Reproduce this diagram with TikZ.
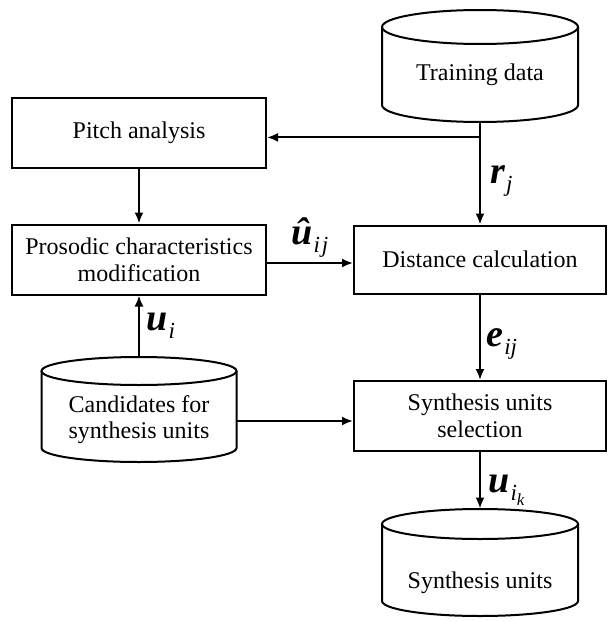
\documentclass[tikz,border=0pt]{standalone}
\usepackage{fontspec}
\setmainfont{Liberation Serif}
\usetikzlibrary{arrows.meta,calc}
\newcommand\mylab[2]{{\fontsize{19}{19}\selectfont\bfseries\itshape #1}\kern0.5pt\raisebox{-4pt}{\fontsize{11.5}{11.5}\selectfont\itshape #2}}
\newcommand\mycyl[5]{%
  \draw[line width=1pt] (#1,#2) ellipse [x radius=#4*0.5pt, y radius=#5*0.5pt];
  \draw[line width=1pt] (#1-#4,#2) -- (#1-#4,#3) arc[start angle=180,end angle=360,x radius=#4*0.5pt,y radius=#5*0.5pt] -- (#1+#4,#2);
}
\begin{document}
\begin{tikzpicture}[x=0.5pt,y=-0.5pt,
  box/.style={draw,line width=1pt,minimum width=127pt,minimum height=35pt,inner sep=0pt,align=center,font=\fontsize{12}{13.5}\selectfont},
  txt/.style={inner sep=0pt,align=center,font=\fontsize{12}{13}\selectfont},
  cylnode/.style={inner sep=0pt,minimum width=98pt},
  arr/.style={line width=1pt,-{Latex[length=5.5pt,width=4.5pt]}},
  lab/.style={inner sep=0pt,anchor=west}]
\useasboundingbox (0,0) rectangle (608,621);

\node[box] (pitch) at (139,133) {Pitch analysis};
\node[box] (pros) at (139,259.5) {Prosodic characteristics\\modification};
\node[box,minimum width=126pt,minimum height=34pt] (dist) at (480,259.5) {Distance calculation};
\node[box,minimum width=126pt] (sel) at (480,416) {Synthesis units\\selection};

% cylinders
\mycyl{480}{27}{105}{98}{17}
\node[cylnode,minimum height=56pt] (train) at (480,66) {};
\node[txt] (traint) at (480,75) {Training data};

\mycyl{139}{371}{448}{97.5}{14}
\node[cylnode,minimum width=97.5pt,minimum height=52.5pt] (cand) at (139,409.5) {};
\node[txt] (candt) at (139,420) {Candidates for\\synthesis units};

\mycyl{480}{524}{601}{98}{15}
\node[cylnode,minimum height=53.5pt] (synth) at (480,562.5) {};
\node[txt] (syntht) at (480,583) {Synthesis units};

% connectors
\draw[arr] (train.south) -- (dist.north);
\coordinate (br) at ($(train.south)+(0,15)$);
\draw[arr] (br) -- (pitch.east |- br);
\draw[arr] (pitch.south) -- (pros.north);
\draw[arr] ($(pros.east)+(0,3.5)$) -- ($(dist.west)+(0,3.5)$);
\draw[arr] (cand.north) -- (pros.south);
\coordinate (cb) at ($(cand.east)+(0,11.5)$);
\draw[arr] (cb) -- (sel.west |- cb);
\draw[arr] (dist.south) -- (sel.north);
\draw[arr] (sel.south) -- (synth.north);

% labels
\node[lab] (rj) at (490,181) {\mylab{r}{j}};
\node[lab] (uij) at (291,238) {\mylab{\^u}{i\kern1pt j}};
\node[lab] (ui) at (146,326) {\mylab{u}{i}};
\node[lab] (eij) at (486,344) {\mylab{e}{ij}};
\node[lab] (uik) at (488,490) {\mylab{u}{i\raisebox{-2.5pt}{\fontsize{8.5}{8.5}\selectfont k}}};
\end{tikzpicture}
\end{document}
